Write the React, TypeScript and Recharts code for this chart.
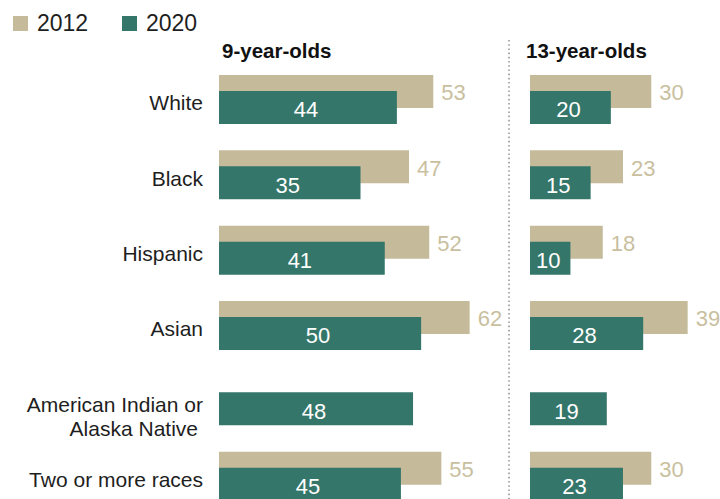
import { BarChart, Bar, XAxis, YAxis, LabelList } from 'recharts';

const categories = [
  'White',
  'Black',
  'Hispanic',
  'Asian',
  'American Indian or\nAlaska Native',
  'Two or more races',
];
const nine2012 = [53, 47, 52, 62, null, 55];
const nine2020 = [44, 35, 41, 50, 48, 45];
const thirteen2012 = [30, 23, 18, 39, null, 30];
const thirteen2020 = [20, 15, 10, 28, 19, 23];
const seriesNames = ['2012', '2020'];
const panelTitles = ['9-year-olds', '13-year-olds'];

const TAN = '#C5BA9A';
const TAN_TEXT = '#C9BF9F';
const GREEN = '#35766A';
const FONT = '"Liberation Sans", Arial, sans-serif';

const nineData = categories.map((name, i) => ({ name, y2012: nine2012[i], y2020: nine2020[i] }));
const thirteenData = categories.map((name, i) => ({ name, y2012: thirteen2012[i], y2020: thirteen2020[i] }));

const CategoryTick = (props: any) => {
  const { x, y, payload } = props;
  const lines = String(payload.value).split('\n');
  return (
    <text x={x} y={y + 3} textAnchor="end" fill="#1e1e1e" fontSize={21} fontFamily={FONT}>
      {lines.map((line, i) => (
        <tspan key={i} x={i === 0 ? x : x - 5} dy={i === 0 ? '0.36em' : 24}>
          {line}
        </tspan>
      ))}
    </text>
  );
};

const OuterLabel = (props: any) => {
  const { x, y, width, height, value } = props;
  if (value == null) return null;
  return (
    <text
      x={x + width + 8}
      y={y + height / 2 + 1}
      dy="0.36em"
      fill={TAN_TEXT}
      fontSize={22}
      fontFamily={FONT}
    >
      {value}
    </text>
  );
};

const InnerLabel = (props: any) => {
  const { x, y, width, height, value } = props;
  if (value == null) return null;
  return (
    <text
      x={x + width / 2 - 2}
      y={y + height / 2 + 2}
      dy="0.36em"
      textAnchor="middle"
      fill="#fff"
      fontSize={22}
      fontFamily={FONT}
    >
      {value}
    </text>
  );
};

const Panel = ({ data, max, width, showAxis }: any) => (
  <BarChart
    layout="vertical"
    width={width}
    height={520}
    data={data}
    margin={{ top: 62, right: 0, bottom: 6, left: 0 }}
    barSize={33}
    barGap={-17}
  >
    <XAxis type="number" domain={[0, max]} hide />
    <YAxis
      type="category"
      dataKey="name"
      width={showAxis ? 219 : 0}
      hide={!showAxis}
      axisLine={false}
      tickLine={false}
      tickSize={0}
      tickMargin={16}
      tick={<CategoryTick />}
      interval={0}
    />
    <Bar dataKey="y2012" fill={TAN} isAnimationActive={false}>
      <LabelList dataKey="y2012" content={<OuterLabel />} />
    </Bar>
    <Bar dataKey="y2020" fill={GREEN} isAnimationActive={false}>
      <LabelList dataKey="y2020" content={<InnerLabel />} />
    </Bar>
  </BarChart>
);

export default function App() {
  return (
    <div
      style={{
        position: 'absolute',
        left: 0,
        top: 0,
        width: 720,
        height: 499,
        overflow: 'hidden',
        background: '#fff',
        fontFamily: FONT,
      }}
    >
      {/* legend */}
      {seriesNames.map((s, i) => (
        <div
          key={s}
          style={{
            position: 'absolute',
            left: 13 + i * 109,
            top: 10,
            display: 'flex',
            alignItems: 'center',
            fontSize: 23,
            color: '#1e1e1e',
            height: 27,
          }}
        >
          <span
            style={{
              display: 'inline-block',
              width: 15,
              height: 15,
              background: i === 0 ? TAN : GREEN,
              marginRight: 9,
            }}
          />
          {s}
        </div>
      ))}
      <div style={{ position: 'absolute', left: 222, top: 39, fontSize: 20.5, fontWeight: 700, color: '#111' }}>
        {panelTitles[0]}
      </div>
      <div style={{ position: 'absolute', left: 526, top: 39, fontSize: 20.5, fontWeight: 700, color: '#111' }}>
        {panelTitles[1]}
      </div>
      <svg style={{ position: 'absolute', left: 507, top: 40 }} width={4} height={460}>
        <line x1={2} y1={0} x2={2} y2={460} stroke="#999" strokeWidth={1.6} strokeDasharray="1.6 2.6" />
      </svg>
      <div style={{ position: 'absolute', left: 0, top: 0 }}>
        <Panel data={nineData} max={70} width={502} showAxis />
      </div>
      <div style={{ position: 'absolute', left: 530, top: 0 }}>
        <Panel data={thirteenData} max={47} width={190} showAxis={false} />
      </div>
    </div>
  );
}
